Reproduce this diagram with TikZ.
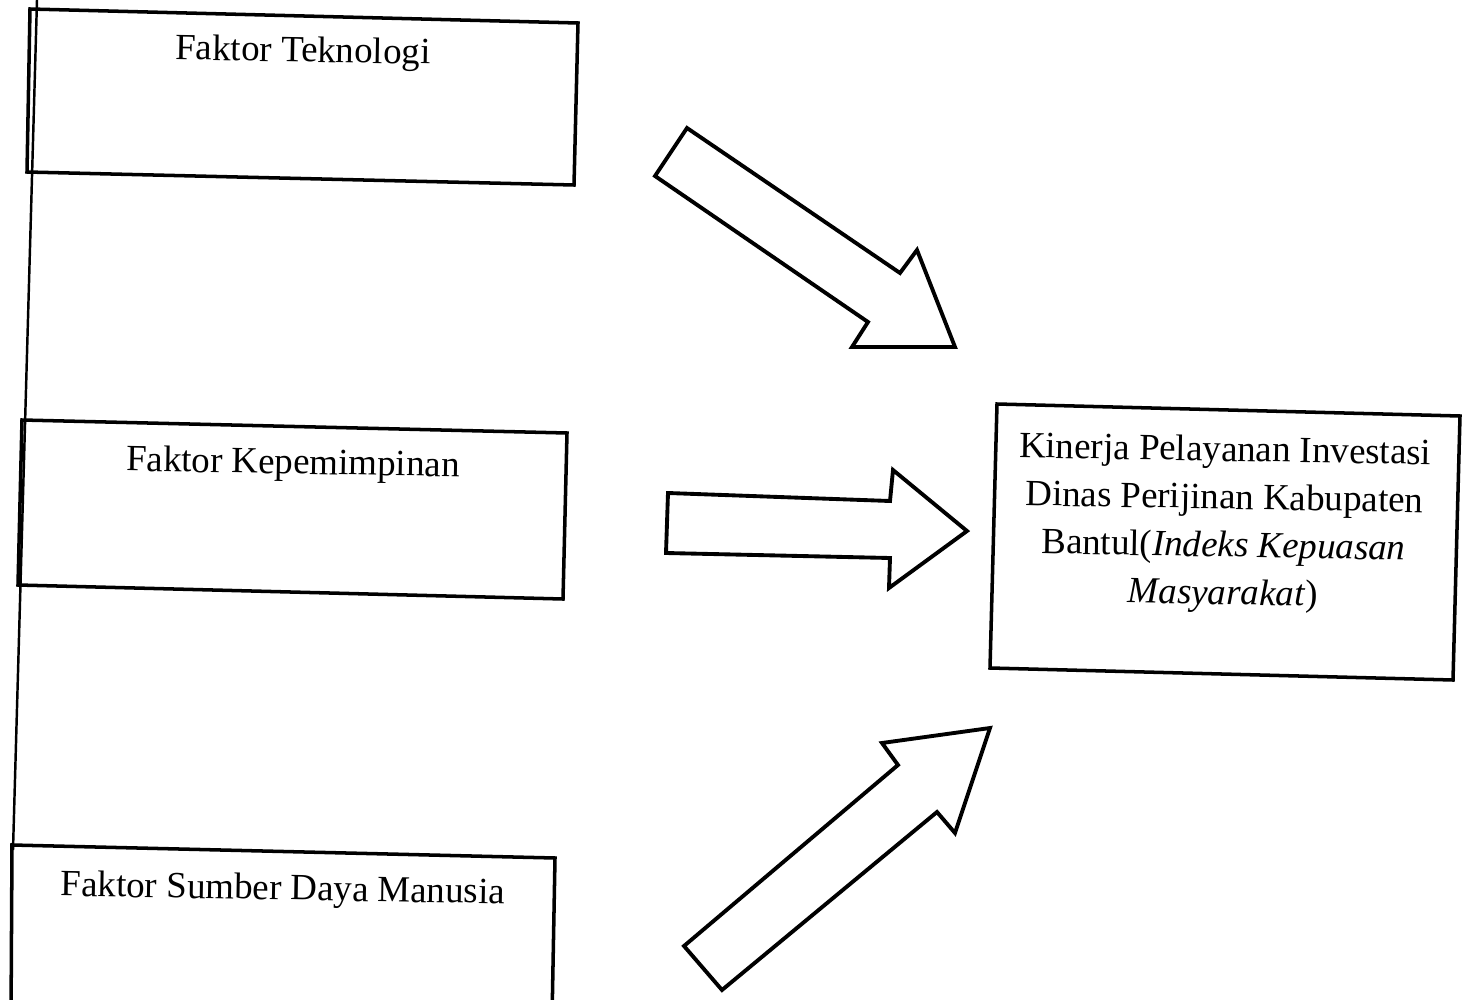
\documentclass[tikz,border=0pt]{standalone}
\usepackage{fontspec}
\setmainfont{Liberation Serif}
\begin{document}
\begin{tikzpicture}[x=0.01cm,y=-0.01cm,
  frame/.style={draw=black,line width=1pt,line join=miter},
  bigarrow/.style={draw=black,fill=white,line width=1.1pt,line join=miter},
  lbl/.style={font=\fontsize{10.5}{13.6}\selectfont,inner sep=0pt,rotate=-1}]
\useasboundingbox (0,0) rectangle (1463,1000);
\clip (0,0) rectangle (1463,1000);
% left vertical line
\coordinate (vt) at (37,0);
\coordinate (vb) at (13,850);
\draw[line width=0.7pt] (vt) -- (vb);
% box 1
\coordinate (a1) at (30,9); \coordinate (a2) at (578,23);
\coordinate (a3) at (574,185); \coordinate (a4) at (27,172);
\draw[frame] (a1) -- (a2) -- (a3) -- (a4) -- cycle;
\node[lbl] (t1) at (303,53) {Faktor Teknologi};
% box 2
\coordinate (b1) at (22,420); \coordinate (b2) at (567,433);
\coordinate (b3) at (563,599); \coordinate (b4) at (18,585);
\draw[frame] (b1) -- (b2) -- (b3) -- (b4) -- cycle;
\node[lbl] (t2) at (293,465) {Faktor Kepemimpinan};
% box 3
\coordinate (c1) at (12,845); \coordinate (c2) at (555,858);
\coordinate (c3) at (552,1020); \coordinate (c4) at (11,1020);
\draw[frame] (c4) -- (c1) -- (c2) -- (c3);
\node[lbl] (t3) at (283,891) {Faktor Sumber Daya Manusia};
% right box
\coordinate (d1) at (997,404); \coordinate (d2) at (1460,416);
\coordinate (d3) at (1453,680); \coordinate (d4) at (990,668);
\draw[frame] (d1) -- (d2) -- (d3) -- (d4) -- cycle;
\node[lbl,align=center] (t4) at (1224,524) {Kinerja Pelayanan Investasi\\Dinas Perijinan Kabupaten\\Bantul(\textit{Indeks Kepuasan}\\\textit{Masyarakat})};
% arrow 1 (down-right)
\draw[bigarrow] (687,128) -- (900,273) -- (917,250) -- (955,347) -- (852,347) -- (868,322) -- (655,176) -- cycle;
% arrow 2 (right)
\draw[bigarrow] (668,493) -- (890,501) -- (893,470) -- (967,531) -- (889,588) -- (890,558) -- (666,553) -- cycle;
% arrow 3 (up-right)
\draw[bigarrow] (684,946) -- (898,765) -- (882,743) -- (990,728) -- (955,833) -- (937,812) -- (722,990) -- cycle;
\end{tikzpicture}
\end{document}
